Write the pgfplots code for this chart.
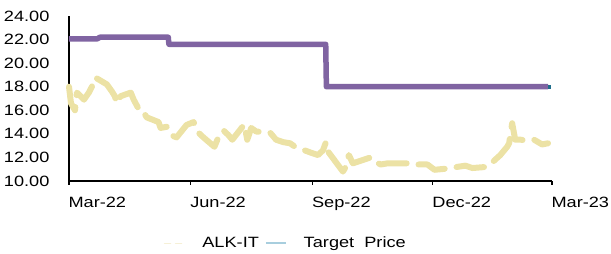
\documentclass[border=0pt]{standalone}
\usepackage{fontspec}
\setmainfont{Liberation Sans}[FakeStretch=1.22]
\usepackage{pgfplots}
\pgfplotsset{compat=1.18}
\definecolor{pricecol}{RGB}{236,226,165}
\definecolor{pricelight}{RGB}{246,240,214}
\definecolor{tpcol}{RGB}{128,100,162}
\definecolor{tplegend}{RGB}{168,206,222}
\definecolor{tealend}{RGB}{31,110,140}
\begin{document}
\begin{tikzpicture}
\useasboundingbox (-69pt,-73pt) rectangle (542pt,181pt);
\begin{axis}[
  scale only axis,
  width=483pt, height=165pt,
  xmin=0, xmax=365,
  ymin=10, ymax=24,
  axis lines=left,
  axis line style={-, black, line width=1.1pt},
  xtick={0,92,184,275,365},
  xticklabels={Mar-22,Jun-22,Sep-22,Dec-22,Mar-23},
  ytick={10,12,...,24},
  major tick length=4pt,
  ytick style={draw=none},
  xtick style={black, line width=1.1pt},
  tick align=outside,
  /pgf/number format/assume math mode=true,
  /pgf/number format/.cd, fixed, fixed zerofill, precision=2, /pgfplots/.cd,
  tick label style={font=\fontsize{14.9}{16}\selectfont, black},
  yticklabel style={xshift=-12pt},
  xticklabel style={anchor=north west, xshift=-4pt, yshift=-9pt},
  clip=false,
  legend style={at={(0.196,-0.327)}, anchor=north west, draw=none, fill=none,
    font=\fontsize{14.9}{16}\selectfont, legend columns=-1,
    /tikz/every even column/.append style={column sep=4pt},
    /tikz/every odd column/.append style={column sep=15pt},
    inner sep=0pt},
  legend cell align=left,
]
\addplot[color=pricecol, line width=6pt, line cap=round, line join=round,
  dash pattern=on 28pt off 12pt,
  legend image code/.code={\draw[pricelight, line width=1.5pt, dash pattern=on 6pt off 5pt] (0pt,0pt) -- (20pt,0pt);}]
coordinates {
(0,18.0)(1.5,16.6)(4.5,16.0)(6,17.5)(11.3,16.9)(15,17.5)(17.3,18.0)(19.6,18.8)
(28.6,18.2)(32.4,17.6)(34.6,17.2)(36.1,16.6)(39.1,17.2)(46.7,17.5)(48.9,16.9)
(52.7,16.1)(54.9,16.1)(58.7,15.4)(67.7,15.0)(69.2,14.5)(73.8,14.6)(76.8,13.9)
(81.3,13.7)(88.8,14.75)(94.1,15.0)(96.3,14.6)(97.8,14.1)(101.6,13.7)(109.9,12.9)
(112.1,13.5)(116.7,14.3)(120.4,13.9)(123.4,13.5)(132.5,14.8)(134.7,13.5)(137.7,14.5)
(141.5,14.2)(152,14.1)(156.5,13.5)(161.8,13.3)(167.1,13.2)(170.8,12.9)(182.9,12.4)
(188.2,12.2)(191.9,12.6)(194.2,13.3)(196.4,12.4)(207,10.8)(209.2,11.2)(211.5,12.2)
(214.5,11.5)(228,12.0)(231.8,11.6)(235.6,11.4)(240.8,11.5)(248.4,11.5)(259.6,11.5)
(263.4,11.4)(270.9,11.4)(276.2,10.95)(289.8,11.1)(293.5,11.2)(299.5,11.3)(304.8,11.1)
(316.1,11.2)(325.9,12.2)(331.1,12.9)(332.6,13.2)(334.9,14.9)(337.2,13.5)(341.7,13.5)
(346.2,13.4)(351.5,13.5)(357.5,13.1)(362,13.2)
};
\addlegendentry{ALK-IT}
\addplot[color=tpcol, line width=5.5pt, line join=round,
  legend image code/.code={\draw[tplegend, line width=1.8pt] (0pt,0pt) -- (20pt,0pt);}]
coordinates {
(0,22.05)(21,22.05)(23.5,22.2)(75,22.2)(75.5,21.6)(194,21.6)(194.5,18.0)(362,18.0)
};
\addlegendentry{Target~~Price}
\addplot[only marks, mark=square*, mark size=1.2pt, color=tealend, forget plot]
coordinates {(363,18.0)};
\end{axis}
\end{tikzpicture}
\end{document}
